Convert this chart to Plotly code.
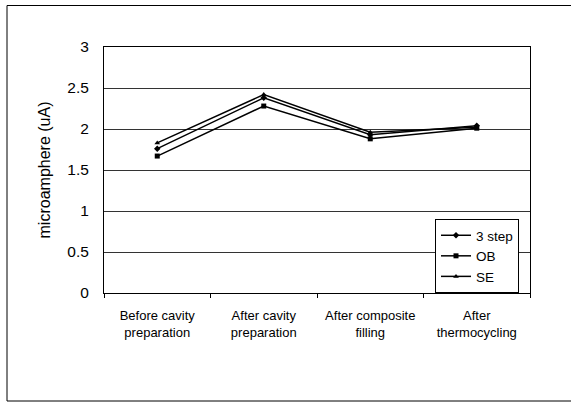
import plotly.graph_objects as go

categories = ["Before cavity<br>preparation", "After cavity<br>preparation",
              "After composite<br>filling", "After<br>thermocycling"]
step3 = [1.76, 2.38, 1.93, 2.04]
ob = [1.67, 2.28, 1.88, 2.01]
se = [1.83, 2.42, 1.96, 2.02]
y_ticks = [0, 0.5, 1, 1.5, 2, 2.5, 3]

series = [("3 step", step3, "diamond"), ("OB", ob, "square"), ("SE", se, "triangle-up")]

fig = go.Figure()
for name, vals, sym in series:
    fig.add_trace(go.Scatter(
        x=categories, y=vals, name=name, mode="lines+markers",
        line=dict(color="black", width=1.5),
        marker=dict(symbol=sym, size=5, color="black"),
    ))

L, R, T, B = 104, 41, 47, 110
W, H = 571, 403
pw, ph = W - L - R, H - T - B

def px(x):
    return (x - L) / pw

def py(y):
    return (H - B - y) / ph

fig.update_layout(
    width=W, height=H,
    margin=dict(l=L, r=R, t=T, b=B, autoexpand=False),
    paper_bgcolor="white", plot_bgcolor="white",
    font=dict(family="Liberation Sans, Arial, sans-serif", color="black"),
    showlegend=True,
    legend=dict(
        x=px(435), y=py(219), xanchor="left", yanchor="top",
        bordercolor="black", borderwidth=1, bgcolor="white",
        font=dict(size=13.5, color="black"),
        tracegroupgap=0, itemwidth=30,
    ),
    xaxis=dict(
        type="category", range=[-0.5, 3.5], showline=True, linecolor="black", linewidth=1,
        mirror=True, ticks="outside", tickson="boundaries", ticklen=4,
        tickcolor="black", showgrid=False, ticklabelstandoff=10, automargin=False,
        tickfont=dict(size=13, color="black"),
    ),
    yaxis=dict(
        range=[0, 3], tickvals=y_ticks, showline=True, linecolor="black",
        linewidth=1, mirror=True, showgrid=True, gridcolor="#333333",
        gridwidth=1, zeroline=False, ticks="", ticklen=0, ticklabelstandoff=11,
        automargin=False,
        tickfont=dict(size=15.5, color="black"),
        title=dict(text="microamphere (uA)", font=dict(size=16, color="black"), standoff=12),
    ),
    shapes=[
        dict(type="line", xref="paper", yref="paper", x0=px(7), x1=px(571), y0=py(5.5), y1=py(5.5),
             line=dict(color="black", width=1)),
        dict(type="line", xref="paper", yref="paper", x0=px(7), x1=px(7), y0=py(5.5), y1=py(401),
             line=dict(color="black", width=1)),
        dict(type="line", xref="paper", yref="paper", x0=px(7), x1=px(571), y0=py(401), y1=py(401),
             line=dict(color="black", width=1)),
    ],
)

fig.write_html("out.html", config={"displayModeBar": False},
               post_script="document.body.style.margin='0';document.body.style.overflow='hidden';")
